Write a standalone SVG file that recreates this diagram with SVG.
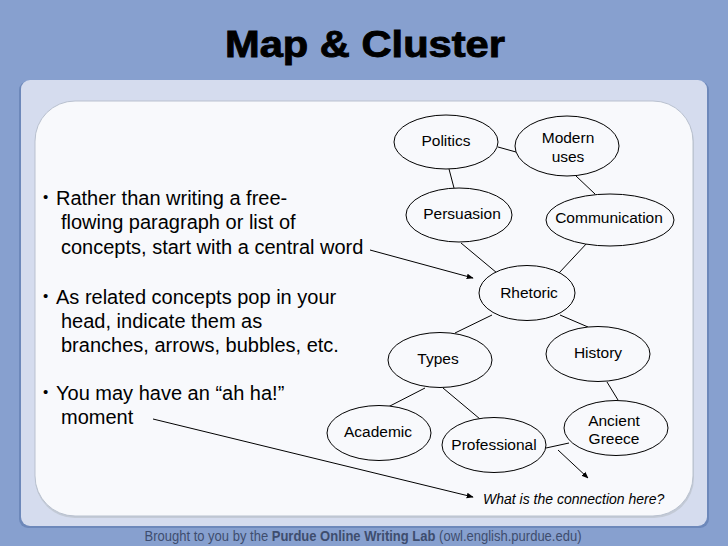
<svg xmlns="http://www.w3.org/2000/svg" width="728" height="546" viewBox="0 0 728 546">
<style>
.node ellipse{fill:#f8f9fc;stroke:#000;stroke-width:1}
.node text{font-family:"Liberation Sans",Arial,sans-serif;font-size:15.5px;fill:#000;text-anchor:middle}
.body{font-family:"Liberation Sans",Arial,sans-serif;font-size:20px;fill:#000}
.bul{font-family:"Liberation Sans",Arial,sans-serif;font-size:15px;fill:#000}
#connectors line{stroke:#000;stroke-width:1}
</style>
<defs>
<marker id="ah" viewBox="0 0 10 10" refX="9" refY="5" markerWidth="7" markerHeight="7" orient="auto" markerUnits="userSpaceOnUse">
<path d="M0,1 L10,5 L0,9 Z" fill="#000"/>
</marker>
</defs>
<rect x="0" y="0" width="728" height="546" fill="#87a0cf"/>
<rect x="19" y="81" width="690" height="447" rx="9" fill="#6d88ba"/>
<rect x="21" y="80" width="686" height="446" rx="9" fill="#d5dcee"/>
<rect x="35" y="103" width="659" height="415" rx="40" fill="#c3cad6"/>
<rect x="35" y="101" width="658" height="415" rx="40" fill="#f8f9fc" stroke="#b9c1cf" stroke-width="1"/>
<text x="365" y="57" font-family="Liberation Sans,Arial,sans-serif" font-weight="bold" font-size="37" text-anchor="middle" textLength="280" lengthAdjust="spacingAndGlyphs" fill="#000" stroke="#000" stroke-width="0.9">Map &amp; Cluster</text>
<text x="363" y="541" font-family="Liberation Sans,Arial,sans-serif" font-size="14" fill="#3e4d6e" text-anchor="middle" textLength="437" lengthAdjust="spacingAndGlyphs">Brought to you by the <tspan font-weight="bold">Purdue Online Writing Lab</tspan> (owl.english.purdue.edu)</text>
<g id="bullets">
<text class="bul" x="43" y="202">•</text>
<text class="body" x="56" y="205">Rather than writing a free-</text>
<text class="body" x="61" y="229">flowing paragraph or list of</text>
<text class="body" x="61" y="254">concepts, start with a central word</text>
<text class="bul" x="43" y="301">•</text>
<text class="body" x="56" y="304">As related concepts pop in your</text>
<text class="body" x="61" y="328">head, indicate them as</text>
<text class="body" x="61" y="352">branches, arrows, bubbles, etc.</text>
<text class="bul" x="43" y="397">•</text>
<text class="body" x="56" y="400">You may have an “ah ha!”</text>
<text class="body" x="61" y="424">moment</text>
</g>
<g id="connectors">
<line x1="498" y1="147" x2="516" y2="152"/>
<line x1="449" y1="169" x2="454" y2="188"/>
<line x1="576" y1="176" x2="595" y2="194"/>
<line x1="461" y1="243" x2="497" y2="273"/>
<line x1="588" y1="242" x2="559" y2="273"/>
<line x1="370" y1="250" x2="473" y2="278" marker-end="url(#ah)"/>
<line x1="492" y1="315" x2="455" y2="333"/>
<line x1="560" y1="315" x2="588" y2="327"/>
<line x1="425" y1="388" x2="388" y2="407"/>
<line x1="443" y1="388" x2="480" y2="419"/>
<line x1="607" y1="382" x2="618" y2="400"/>
<line x1="546" y1="448" x2="569" y2="443"/>
<line x1="558" y1="450" x2="588" y2="478" marker-end="url(#ah)"/>
<line x1="153" y1="419" x2="473" y2="497" marker-end="url(#ah)"/>
</g>
<g id="politics" class="node"><ellipse cx="446" cy="142" rx="52" ry="27"/><text x="446" y="146">Politics</text></g>
<g id="modern-uses" class="node"><ellipse cx="567" cy="146" rx="52" ry="30"/><text x="568" y="143">Modern</text><text x="568" y="162">uses</text></g>
<g id="persuasion" class="node"><ellipse cx="459" cy="215" rx="53" ry="27"/><text x="462" y="219">Persuasion</text></g>
<g id="communication" class="node"><ellipse cx="610" cy="220" rx="64" ry="26"/><text x="609" y="223">Communication</text></g>
<g id="rhetoric" class="node"><ellipse cx="527" cy="293" rx="48" ry="27.5"/><text x="529" y="298">Rhetoric</text></g>
<g id="types" class="node"><ellipse cx="440" cy="360" rx="52" ry="27.5"/><text x="438" y="364">Types</text></g>
<g id="history" class="node"><ellipse cx="598" cy="354" rx="52" ry="27.5"/><text x="598" y="358">History</text></g>
<g id="academic" class="node"><ellipse cx="379" cy="433" rx="52" ry="27.5"/><text x="378" y="437">Academic</text></g>
<g id="professional" class="node"><ellipse cx="494" cy="445" rx="52" ry="27.5"/><text x="494" y="450">Professional</text></g>
<g id="ancient-greece" class="node"><ellipse cx="616" cy="428" rx="52" ry="27.5"/><text x="614" y="426">Ancient</text><text x="614" y="444">Greece</text></g>
<text x="483" y="504" font-family="Liberation Sans,Arial,sans-serif" font-size="14" font-style="italic" fill="#000">What is the connection here?</text>
</svg>
